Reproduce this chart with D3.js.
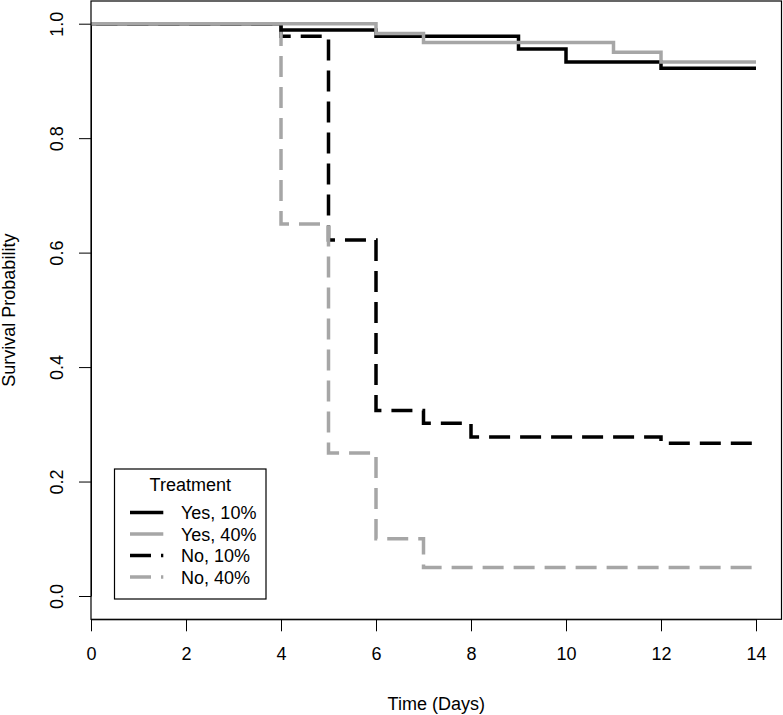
<!DOCTYPE html>
<html><head><meta charset="utf-8">
<script src="https://cdn.jsdelivr.net/npm/d3@7"></script>
<style>
body{margin:0;background:#fff}
svg{display:block}
text{font-family:"Liberation Sans",Arial,Helvetica,sans-serif;font-size:18px;fill:#000}
</style>
</head><body><svg id="c" width="783" height="715"></svg>
<script>
// ---------------- data ----------------
const seriesNames = ["Yes, 10%", "Yes, 40%", "No, 10%", "No, 40%"];
const yes10Times = [0, 4, 6, 9, 10, 12, 14];
const yes10Surv  = [1, 0.989, 0.978, 0.956, 0.933, 0.922, 0.922];
const yes40Times = [0, 6, 7, 11, 12, 14];
const yes40Surv  = [1, 0.983, 0.967, 0.950, 0.933, 0.933];
const no10Times  = [0, 4, 5, 6, 7, 8, 12, 14];
const no10Surv   = [1, 0.978, 0.622, 0.324, 0.302, 0.278, 0.267, 0.267];
const no40Times  = [0, 4, 5, 6, 7, 14];
const no40Surv   = [1, 0.65, 0.25, 0.10, 0.05, 0.05];
const xTicks = [0, 2, 4, 6, 8, 10, 12, 14];
const yTicks = [0, 0.2, 0.4, 0.6, 0.8, 1.0];
const xTitle = "Time (Days)";
const yTitle = "Survival Probability";
const legendTitle = "Treatment";

// ---------------- styles ----------------
const styles = {
  "Yes, 10%": {color: "#000000", dash: null},
  "Yes, 40%": {color: "#a6a6a6", dash: null},
  "No, 10%":  {color: "#000000", dash: "21,10"},
  "No, 40%":  {color: "#a6a6a6", dash: "21,10"}
};
const LW = 3.5;

const series = {
  "Yes, 10%": yes10Times.map((t, i) => ({t, s: yes10Surv[i]})),
  "Yes, 40%": yes40Times.map((t, i) => ({t, s: yes40Surv[i]})),
  "No, 10%":  no10Times.map((t, i) => ({t, s: no10Surv[i]})),
  "No, 40%":  no40Times.map((t, i) => ({t, s: no40Surv[i]}))
};

// ---------------- layout ----------------
const box = {left: 91, right: 781.5, top: 1, bottom: 619.3};
const svg = d3.select("#c");
const x = d3.scaleLinear().domain([0, 14]).range([91, 756]);
const y = d3.scaleLinear().domain([0, 1]).range([596, 23.7]);

// axes
const xAxis = d3.axisBottom(x).tickValues(xTicks).tickFormat(d3.format("d")).tickSize(12).tickSizeOuter(0);
const gx = svg.append("g").attr("transform", `translate(0,${box.bottom})`).call(xAxis);
gx.selectAll("text").attr("y", 40.7).attr("dy", 0).style("font-size", "18px");

const yAxis = d3.axisLeft(y).tickValues(yTicks).tickFormat(d3.format(".1f")).tickSize(12).tickSizeOuter(0);
const gy = svg.append("g").attr("transform", `translate(${box.left},0)`).call(yAxis);
gy.selectAll("text").attr("x", 0).attr("y", 0).attr("dy", 0)
  .attr("text-anchor", "middle").attr("transform", "translate(-28,0) rotate(-90)")
  .style("font-size", "18px");
svg.selectAll(".domain, .tick line").attr("stroke", "#000").attr("stroke-width", 1);
svg.selectAll(".tick text").attr("fill", "#000").style("font-family", '"Liberation Sans",Arial,sans-serif');

// titles
svg.append("text").attr("x", (box.left + box.right) / 2).attr("y", 709.7)
  .attr("text-anchor", "middle").text(xTitle);
svg.append("text").attr("transform", `translate(15,${(box.top + box.bottom) / 2}) rotate(-90)`)
  .attr("text-anchor", "middle").text(yTitle);

// curves
const line = d3.line().x(d => x(d.t)).y(d => y(d.s)).curve(d3.curveStepAfter);
const drawOrder = ["No, 10%", "No, 40%", "Yes, 10%", "Yes, 40%"];
drawOrder.forEach(name => {
  const st = styles[name];
  svg.append("path").datum(series[name])
    .attr("d", line)
    .attr("fill", "none")
    .attr("stroke", st.color)
    .attr("stroke-width", LW)
    .attr("stroke-linejoin", "miter")
    .attr("stroke-linecap", "butt")
    .attr("stroke-dasharray", st.dash)
    .attr("stroke-dashoffset", st.dash ? -5.3 : null);
});

// box
svg.append("rect").attr("x", box.left).attr("y", box.top)
  .attr("width", box.right - box.left).attr("height", box.bottom - box.top)
  .attr("fill", "none").attr("stroke", "#000").attr("stroke-width", 1.2);

// legend
const lg = {left: 114.5, right: 266, top: 469, bottom: 599};
svg.append("rect").attr("x", lg.left).attr("y", lg.top)
  .attr("width", lg.right - lg.left).attr("height", lg.bottom - lg.top)
  .attr("fill", "#fff").attr("stroke", "#000").attr("stroke-width", 1.2);
svg.append("text").attr("x", (lg.left + lg.right) / 2).attr("y", 491)
  .attr("text-anchor", "middle").text(legendTitle);
const rowY = d3.scalePoint().domain(seriesNames).range([512.5, 577]);
seriesNames.forEach(name => {
  const st = styles[name];
  const yy = rowY(name);
  svg.append("line").attr("x1", 130).attr("x2", 163.3).attr("y1", yy).attr("y2", yy)
    .attr("stroke", st.color).attr("stroke-width", LW)
    .attr("stroke-dasharray", st.dash);
  svg.append("text").attr("x", 181).attr("y", yy + 6.5).text(name);
});
</script>
</body></html>
